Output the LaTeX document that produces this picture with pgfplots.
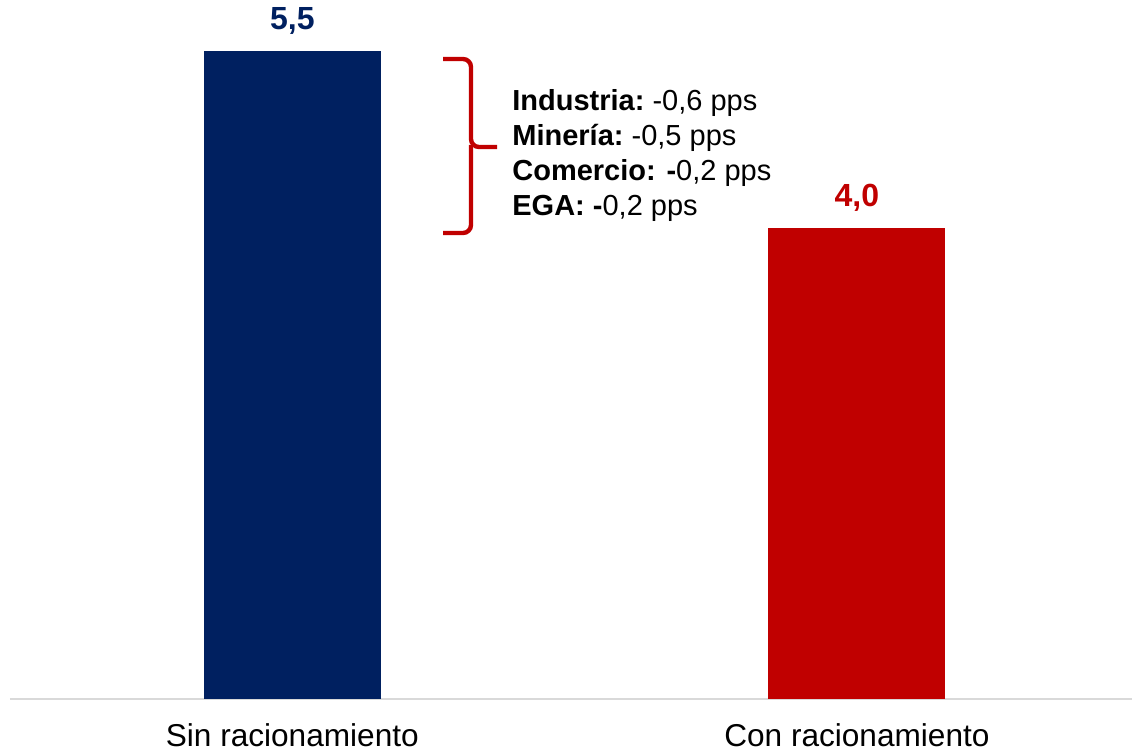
\documentclass[border=0pt]{standalone}
\usepackage{fontspec}
\setmainfont{Liberation Sans}
\usepackage{pgfplots}
\pgfplotsset{compat=1.18}
\definecolor{navy}{HTML}{002060}
\definecolor{rojo}{HTML}{C00000}
\definecolor{eje}{HTML}{D9D9D9}

\begin{document}
\begin{tikzpicture}
\useasboundingbox (-5pt,-26pt) rectangle (561pt,349.5pt);
\begin{axis}[
  scale only axis,
  width=561pt, height=349.5pt,
  xmin=-0.5, xmax=1.4872,
  ymin=0, ymax=5.936,
  axis y line=none,
  axis x line=bottom,
  x axis line style={-, draw=eje, line width=1pt},
  xtick={0,1},
  xticklabels={Sin racionamiento, Con racionamiento},
  major tick length=0pt,
  xticklabel style={font=\fontsize{15.8}{18}\selectfont, anchor=base, yshift=-23.75pt},
  ybar, bar width=88.5pt, bar shift=0pt,
  clip=false,
  nodes near coords={\pgfmathprintnumber[fixed, fixed zerofill, precision=1, use comma, assume math mode=true]{\pgfplotspointmeta}},
  nodes near coords style={font=\bfseries\fontsize{16}{18}\selectfont, anchor=center, yshift=15pt},
]
\addplot[fill=navy, draw=none, every node near coord/.append style={text=navy}]
  coordinates {(0,5.5)};
\addplot[fill=rojo, draw=none, every node near coord/.append style={text=rojo}]
  coordinates {(1,4.0)};
\end{axis}

% brace grouping the sector contributions
\draw[rojo, line width=2.2pt, rounded corners=4pt]
  (216.5pt,320pt) -- (230.5pt,320pt) -- (230.5pt,276pt) -- (243.5pt,276pt);
\draw[rojo, line width=2.2pt, rounded corners=4pt]
  (216.5pt,233pt) -- (230.5pt,233pt) -- (230.5pt,277pt);

\begin{scope}[every node/.style={anchor=base west, inner sep=0pt, font=\fontsize{14.5}{16}\selectfont}]
\node at (251pt,294pt)   {\textbf{Industria:}~-0,6 pps};
\node at (251pt,276.5pt) {\textbf{Minería:}~-0,5 pps};
\node at (251pt,259pt)   {\textbf{Comercio: -}0,2 pps};
\node at (251pt,241.5pt) {\textbf{EGA: -}0,2 pps};
\end{scope}
\end{tikzpicture}
\end{document}
